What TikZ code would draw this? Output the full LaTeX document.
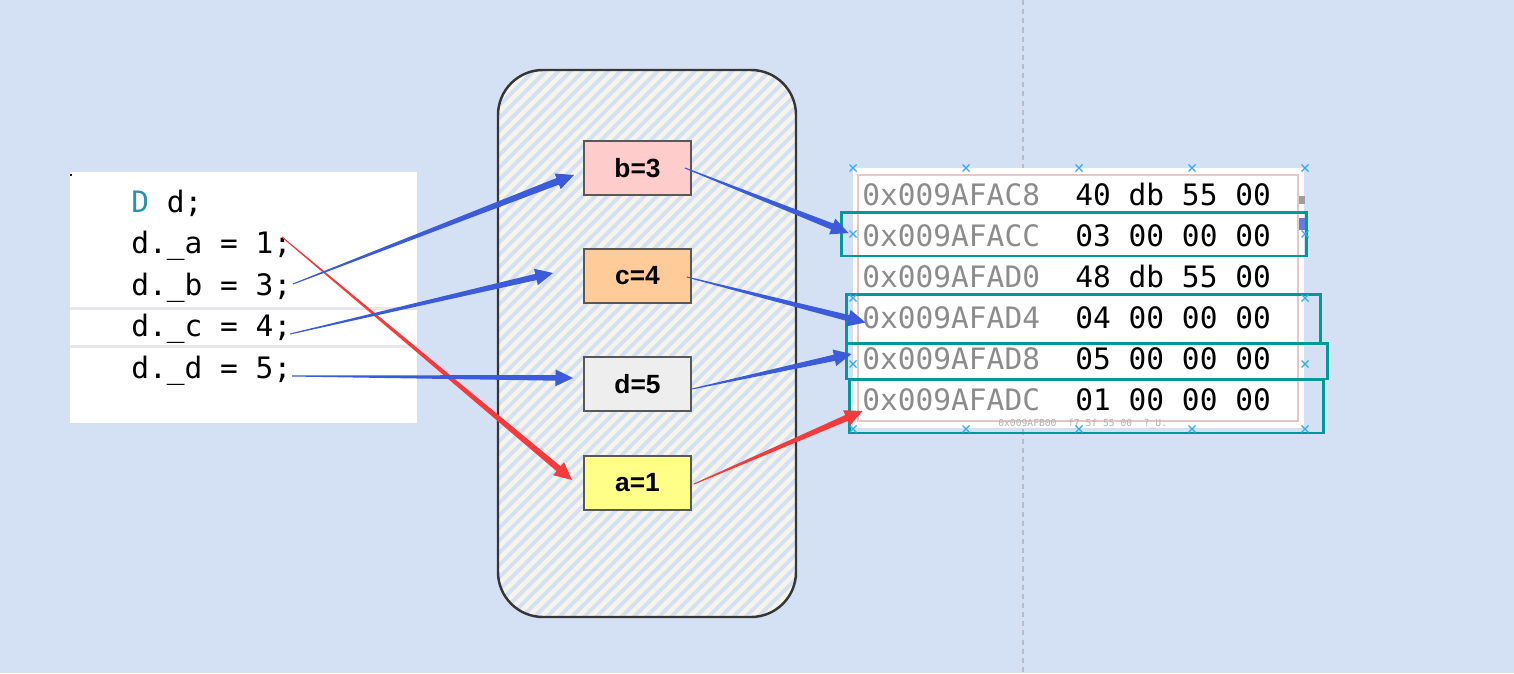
\documentclass[tikz,border=0pt]{standalone}
\usepackage{fontspec}
\usetikzlibrary{calc,patterns.meta}
\newfontfamily\codefont{DejaVu Sans Mono}
\newfontfamily\labfont{Liberation Sans}
\definecolor{bgblue}{HTML}{D4E1F4}
\definecolor{cream}{HTML}{F7F5EA}
\definecolor{contline}{HTML}{363636}
\definecolor{boxline}{HTML}{585858}
\definecolor{pinkb}{HTML}{FFCCCC}
\definecolor{orangeb}{HTML}{FFCC99}
\definecolor{grayb}{HTML}{EEEEEE}
\definecolor{yellowb}{HTML}{FFFF88}
\definecolor{arrblue}{HTML}{3B5BDB}
\definecolor{arrred}{HTML}{F43B3B}
\definecolor{tealc}{HTML}{009999}
\definecolor{dteal}{HTML}{2B91AF}
\definecolor{addrgray}{HTML}{8C8C8C}
\definecolor{sepgray}{HTML}{E6E6EC}
\definecolor{pinkline}{HTML}{E8C6C6}
\definecolor{handle}{HTML}{33AAEE}
\definecolor{dashgray}{HTML}{B8BCC8}
\newcommand\taparrow[4][1.8pt]{%
  \coordinate (tapH) at ($(#3)!10pt!(#2)$);
  \fill[#4] ($(#2)!0.3pt!90:(#3)$) -- ($(tapH)!#1!-90:(#2)$) -- ($(tapH)!4.8pt!-90:(#2)$)
    -- (#3) -- ($(tapH)!4.8pt!90:(#2)$) -- ($(tapH)!#1!90:(#2)$) -- ($(#2)!0.3pt!-90:(#3)$) -- cycle;}
\newcommand\handlex[1]{\draw[handle, line width=0.7pt] (#1) +(-3.5,-3.5) -- +(3.5,3.5) +(-3.5,3.5) -- +(3.5,-3.5);}
\begin{document}
\begin{tikzpicture}[x=0.02cm, y=-0.02cm,
  code/.style={anchor=base west, inner sep=0pt, font=\codefont\fontsize{16.8}{20}\selectfont},
  addr/.style={code, text=addrgray},
  valtxt/.style={code, text=black},
  labbox/.style={draw=boxline, line width=1.1pt, minimum width=2.14cm, minimum height=1.08cm,
    inner sep=0pt, font=\labfont\bfseries\fontsize{15}{18}\selectfont},
  tealbox/.style={draw=tealc, line width=1.7pt, inner sep=0pt}]
\useasboundingbox (0,0) rectangle (1514,673);
\fill[bgblue] (0,0) rectangle (1514,673);
% dashed guide
\draw[dashgray, line width=0.6pt, dash pattern=on 2.9pt off 2.3pt] (1023,0) -- (1023,673);

% code panel
\fill[white] (70,172) rectangle (417,423);
\fill[sepgray] (70,307) rectangle (417,310);
\fill[sepgray] (70,345) rectangle (417,348);
\fill[black] (70,174) rectangle (72,176);
\node[code] (l0) at (131,212) {\textcolor{dteal}{D} d;};
\node[code] (la) at (131,253) {d.\_a = 1;};
\node[code] (lb) at (131,295) {d.\_b = 3;};
\node[code] (lc) at (131,336) {d.\_c = 4;};
\node[code] (ld) at (131,378) {d.\_d = 5;};

% container
\fill[pattern={Lines[angle=45,distance=5pt,line width=2.6pt]}, pattern color=cream,
  rounded corners=0.9cm] (498,70) rectangle (796,617);
\draw[contline, line width=1.4pt, rounded corners=0.9cm] (498,70) rectangle (796,617);

% value boxes
\node[labbox, fill=pinkb] (nb) at (637.5,168) {b=3};
\node[labbox, fill=orangeb] (nc) at (637.5,276) {c=4};
\node[labbox, fill=grayb] (nd) at (637.5,384) {d=5};
\node[labbox, fill=yellowb] (na) at (637.5,483) {a=1};

% memory panel
\fill[white] (853,168) rectangle (1304,428);
\draw[pinkline, line width=1.1pt] (858,175) rectangle (1298,421);
\fill[gray!75] (1299,196) rectangle (1305,204);
\fill[arrblue!80] (1299,218) rectangle (1305,230);
\node[addr] (m1) at (862,205) {0x009AFAC8};
\node[valtxt] (v1) at (1075,205) {40 db 55 00};
\node[addr] (m2) at (862,246) {0x009AFACC};
\node[valtxt] (v2) at (1075,246) {03 00 00 00};
\node[addr] (m3) at (862,287) {0x009AFAD0};
\node[valtxt] (v3) at (1075,287) {48 db 55 00};
\node[addr] (m4) at (862,328) {0x009AFAD4};
\node[valtxt] (v4) at (1075,328) {04 00 00 00};
\node[addr] (m5) at (862,369) {0x009AFAD8};
\node[valtxt] (v5) at (1075,369) {05 00 00 00};
\node[addr] (m6) at (862,410) {0x009AFADC};
\node[valtxt] (v6) at (1075,410) {01 00 00 00};
\node[anchor=base west, inner sep=0pt, text=gray!60, font=\codefont\fontsize{5.5}{6}\selectfont]
  (m7) at (998,426) {0x009AFB00\ \ f7 5f 55 00\ \ ?\_U.};

% highlighted rows
\node[tealbox, minimum width=9.32cm, minimum height=0.88cm] (r2) at (1074,234) {};
\node[tealbox, minimum width=9.50cm, minimum height=0.98cm] (r4) at (1083.5,318.5) {};
\node[tealbox, minimum width=9.64cm, minimum height=0.72cm] (r5) at (1087,361) {};
\node[tealbox, minimum width=9.50cm, minimum height=1.08cm] (r6) at (1086.5,406) {};

% selection handles
\foreach \hx in {853,966,1079,1192,1305} {\handlex{\hx,168} \handlex{\hx,429}}
\foreach \hy in {234,298,364} {\handlex{853,\hy} \handlex{1305,\hy}}

% arrow end points
\coordinate (sa) at (282,237);
\coordinate (sb) at (293,284);
\coordinate (sc) at (290,334);
\coordinate (sd) at (292,376);
\coordinate (ta) at ($(na.west)+(-11,-3)$);
\coordinate (tb) at ($(nb.west)+(-9,7)$);
\coordinate (tc) at ($(nc.west)+(-30,-3)$);
\coordinate (td) at ($(nd.west)+(-10,-6)$);
\coordinate (ua) at ($(na.east)+(2,1)$);
\coordinate (ub) at ($(nb.east)+(-7,0)$);
\coordinate (uc) at ($(nc.east)+(-5,1)$);
\coordinate (ud) at ($(nd.east)+(0,5)$);
\coordinate (wb) at ($(r2.west)+(9,-1)$);
\coordinate (wc) at ($(r4.west)+(21,4)$);
\coordinate (wd) at ($(r5.west)+(7,-7)$);
\coordinate (wa) at ($(r6.west)+(15,5)$);

% arrows
\taparrow{sa}{ta}{arrred}
\taparrow[2pt]{sb}{tb}{arrblue}
\taparrow[1.8pt]{sc}{tc}{arrblue}
\taparrow[1.6pt]{sd}{td}{arrblue}
\taparrow{ub}{wb}{arrblue}
\taparrow{uc}{wc}{arrblue}
\taparrow{ud}{wd}{arrblue}
\taparrow{ua}{wa}{arrred}
\end{tikzpicture}
\end{document}
